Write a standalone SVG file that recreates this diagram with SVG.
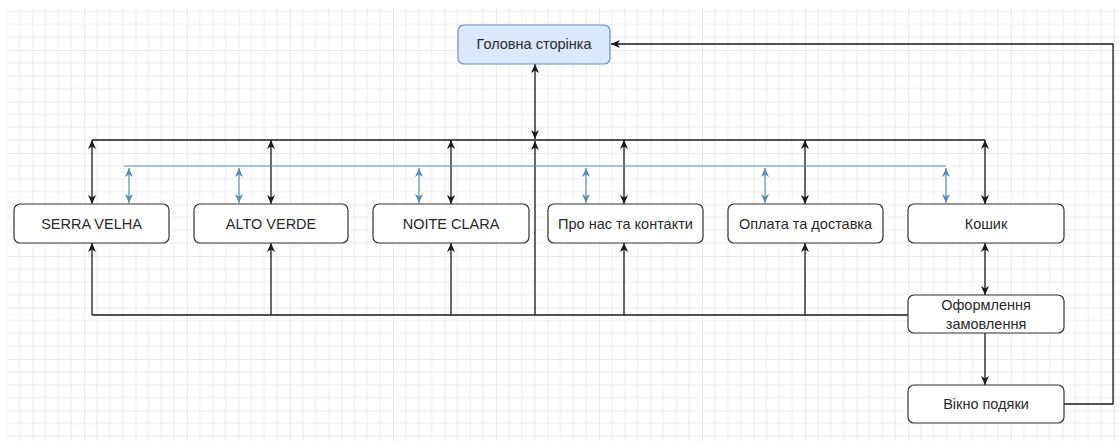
<svg xmlns="http://www.w3.org/2000/svg" width="1120" height="441" viewBox="0 0 1120 441">
<style>
.box{fill:#ffffff;stroke:#333333;stroke-width:1.2}
.main{fill:#dae8fc;stroke:#6c8ebf;stroke-width:1.2}
.t{font-family:"Liberation Sans",Arial,sans-serif;font-size:14.5px;fill:#2a2a2a;text-anchor:middle}
.k{fill:none;stroke:#1a1a1a;stroke-width:1.3}
.b{fill:none;stroke:#5b8db8;stroke-width:1.2}
.k2{marker-start:url(#ak);marker-end:url(#ak)}
.ke{marker-end:url(#ak)}
.b2{marker-start:url(#ab);marker-end:url(#ab)}
</style>
<defs>
<pattern id="grid" x="32.5" y="-1.5" width="51.5" height="51.5" patternUnits="userSpaceOnUse">
<path d="M12.875,0V51.5M25.75,0V51.5M38.625,0V51.5M0,12.875H51.5M0,25.75H51.5M0,38.625H51.5" fill="none" stroke="#ebebeb" stroke-width="1"/>
<path d="M0,0V51.5M0,0H51.5" fill="none" stroke="#d6d6d6" stroke-width="1"/>
</pattern>
<marker id="ak" markerUnits="userSpaceOnUse" markerWidth="10" markerHeight="9" refX="9" refY="4.5" orient="auto-start-reverse">
<path d="M0,0.5L9,4.5L0,8.5L2.5,4.5z" fill="#1a1a1a"/>
</marker>
<marker id="ab" markerUnits="userSpaceOnUse" markerWidth="10" markerHeight="9" refX="9" refY="4.5" orient="auto-start-reverse">
<path d="M0,0.5L9,4.5L0,8.5L2.5,4.5z" fill="#5b8db8"/>
</marker>
</defs>
<rect width="1120" height="441" fill="#ffffff"/>
<rect x="7" y="8" width="1113" height="433" fill="url(#grid)"/>

<g id="connectors">
<path class="k k2" d="M535,64V139"/>
<path class="k" d="M92,140H985"/>
<path class="k k2" d="M92,140V204"/>
<path class="k k2" d="M271,140V204"/>
<path class="k k2" d="M451,140V204"/>
<path class="k k2" d="M624,140V204"/>
<path class="k k2" d="M805,140V204"/>
<path class="k k2" d="M985,140V204"/>
<path class="k" d="M92,315H908"/>
<path class="k ke" d="M92,315V243"/>
<path class="k ke" d="M271,315V243"/>
<path class="k ke" d="M451,315V243"/>
<path class="k ke" d="M624,315V243"/>
<path class="k ke" d="M805,315V243"/>
<path class="k ke" d="M535,315V141"/>
<path class="k k2" d="M985,243V295"/>
<path class="k ke" d="M985,333V385"/>
<path class="k ke" d="M1064,404H1113V44H611"/>
<path class="b" d="M124,166H946"/>
<path class="b b2" d="M129,168V203"/>
<path class="b b2" d="M239,168V203"/>
<path class="b b2" d="M419,168V203"/>
<path class="b b2" d="M586,168V203"/>
<path class="b b2" d="M765,168V203"/>
<path class="b b2" d="M946,168V203"/>
</g>

<g id="home"><rect class="main" x="458" y="25" width="152" height="39" rx="6"/><text class="t" x="534" y="49">Головна сторінка</text></g>
<g id="serra"><rect class="box" x="14" y="204" width="155" height="39" rx="6"/><text class="t" x="91.5" y="228.5">SERRA VELHA</text></g>
<g id="alto"><rect class="box" x="194" y="204" width="154" height="39" rx="6"/><text class="t" x="271" y="228.5">ALTO VERDE</text></g>
<g id="noite"><rect class="box" x="373" y="204" width="156" height="39" rx="6"/><text class="t" x="451" y="228.5">NOITE CLARA</text></g>
<g id="about"><rect class="box" x="548" y="204" width="155" height="39" rx="6"/><text class="t" x="625.5" y="228.5">Про нас та контакти</text></g>
<g id="payment"><rect class="box" x="728" y="204" width="155" height="39" rx="6"/><text class="t" x="805.5" y="228.5">Оплата та доставка</text></g>
<g id="cart"><rect class="box" x="908" y="204" width="156" height="39" rx="6"/><text class="t" x="986" y="228.5">Кошик</text></g>
<g id="checkout"><rect class="box" x="908" y="295" width="156" height="38" rx="6"/><text class="t" x="986" y="310">Оформлення</text><text class="t" x="986" y="329">замовлення</text></g>
<g id="thanks"><rect class="box" x="908" y="385" width="156" height="38" rx="6"/><text class="t" x="986" y="409">Вікно подяки</text></g>
</svg>
